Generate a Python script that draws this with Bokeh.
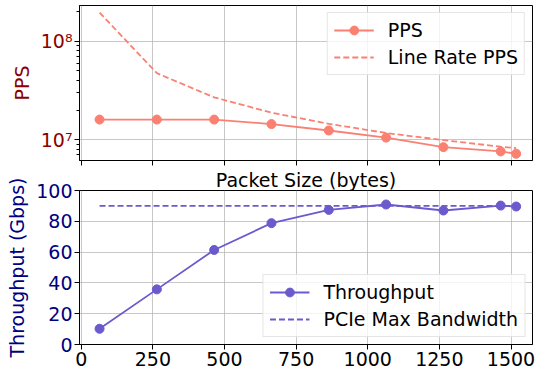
from bokeh.plotting import figure
from bokeh.layouts import column
from bokeh.models import (Range1d, SingleIntervalTicker, FixedTicker, CustomJSTickFormatter,
                          Legend, LegendItem)
from bokeh.embed import file_html
from bokeh.resources import INLINE

packet_sizes = [64, 264, 464, 664, 864, 1064, 1264, 1464, 1518]
pps = [1.60e7, 1.60e7, 1.60e7, 1.44e7, 1.24e7, 1.05e7, 8.4e6, 7.6e6, 7.2e6]
line_rate_pps = [1.95e8, 4.73e7, 2.69e7, 1.88e7, 1.45e7, 1.17e7, 9.9e6, 8.5e6, 8.2e6]
throughput = [10.2, 35.8, 61.4, 78.8, 87.4, 90.9, 87.0, 90.2, 89.6]
pcie_max = [90, 90, 90, 90, 90, 90, 90, 90, 90]
pps_major_ticks = [1e7, 1e8]

FONT = "DejaVu Sans"
FS = "19px"
PPS_COLOR = "#FA8072"
PPS_LABEL = "#8B0000"
TP_COLOR = "#6A5ACD"
TP_LABEL = "#000080"

x_range = Range1d(-6, 1575)


def style(p):
    p.outline_line_color = "black"
    p.outline_line_width = 1
    p.background_fill_color = "white"
    p.border_fill_color = "white"
    for ax in (p.xaxis[0], p.yaxis[0]):
        ax.major_tick_out = 5
        ax.major_tick_in = 0
        ax.minor_tick_out = 3
        ax.minor_tick_in = 0
        ax.major_tick_line_color = "black"
        ax.minor_tick_line_color = "black"
        ax.major_label_text_font = FONT
        ax.major_label_text_font_size = FS
        ax.major_label_text_color = "black"
        ax.axis_label_text_font = FONT
        ax.axis_label_text_font_size = FS
        ax.axis_label_text_font_style = "normal"
        ax.axis_label_text_color = "black"
        ax.axis_line_color = "black"
        ax.major_label_standoff = 2
    p.xaxis.ticker = SingleIntervalTicker(interval=250)
    p.xgrid.ticker = SingleIntervalTicker(interval=250)
    p.xaxis.minor_tick_line_color = None
    for g in (p.xgrid[0], p.ygrid[0]):
        g.grid_line_color = "#b0b0b0"
        g.grid_line_alpha = 0.7
        g.grid_line_width = 1


def make_legend(items):
    lg = Legend(items=items)
    lg.label_text_font = FONT
    lg.label_text_font_size = FS
    lg.label_text_color = "black"
    lg.glyph_width = 40
    lg.glyph_height = 22
    lg.label_height = 22
    lg.label_standoff = 14
    lg.spacing = 5
    lg.padding = 6
    lg.margin = 7
    lg.border_line_color = "#cccccc"
    lg.border_line_width = 1
    lg.background_fill_alpha = 0.8
    return lg


# Top plot (log PPS)
p1 = figure(frame_width=453, frame_height=155, x_range=x_range, y_range=Range1d(6.15e6, 2.3e8),
            y_axis_type="log", output_backend="svg", toolbar_location=None,
            min_border_left=79, min_border_right=3, min_border_top=5, min_border_bottom=6)
style(p1)
minor = [m * 10 ** e for e in (6, 7, 8) for m in range(2, 10)]
p1.yaxis.ticker = FixedTicker(ticks=pps_major_ticks, minor_ticks=minor)
p1.ygrid.ticker = FixedTicker(ticks=pps_major_ticks)
p1.yaxis.formatter = CustomJSTickFormatter(code="""
const sup = {'0':'\u2070','1':'\u00b9','2':'\u00b2','3':'\u00b3','4':'\u2074','5':'\u2075','6':'\u2076','7':'\u2077','8':'\u2078','9':'\u2079'};
const e = Math.round(Math.log10(tick));
return '10' + String(e).split('').map(c => sup[c]).join('');
""")
p1.yaxis.axis_label = "PPS"
p1.yaxis.axis_label_text_color = PPS_LABEL
p1.yaxis.major_label_text_color = PPS_LABEL
p1.xaxis.formatter = CustomJSTickFormatter(code="return '';")
p1.xaxis.major_label_standoff = -25

r_line = p1.line(packet_sizes, pps, line_color=PPS_COLOR, line_width=1.8)
r_pts = p1.scatter(packet_sizes, pps, size=9, fill_color=PPS_COLOR, line_color=PPS_COLOR)
r_lr = p1.line(packet_sizes, line_rate_pps, line_color=PPS_COLOR, line_width=1.8, line_dash="6 3")
lg1 = make_legend([LegendItem(label="PPS", renderers=[r_line, r_pts]),
                   LegendItem(label="Line Rate PPS", renderers=[r_lr])])
lg1.location = "top_right"
p1.add_layout(lg1)

# Bottom plot (throughput)
p2 = figure(frame_width=453, frame_height=154, x_range=x_range, y_range=Range1d(0, 100),
            output_backend="svg", toolbar_location=None, title="Packet Size (bytes)",
            min_border_left=79, min_border_right=3, min_border_top=0, min_border_bottom=30)
style(p2)
p2.title.align = "center"
p2.title.text_font = FONT
p2.title.text_font_size = FS
p2.title.text_font_style = "normal"
p2.title.text_color = "black"
p2.title.standoff = 0
p2.yaxis.ticker = SingleIntervalTicker(interval=20)
p2.ygrid.ticker = SingleIntervalTicker(interval=20)
p2.yaxis.minor_tick_line_color = None
p2.yaxis.axis_label = "Throughput (Gbps)"
p2.yaxis.axis_label_text_color = TP_LABEL
p2.yaxis.major_label_text_color = TP_LABEL

t_line = p2.line(packet_sizes, throughput, line_color=TP_COLOR, line_width=1.8)
t_pts = p2.scatter(packet_sizes, throughput, size=9, fill_color=TP_COLOR, line_color=TP_COLOR)
t_pc = p2.line(packet_sizes, pcie_max, line_color=TP_COLOR, line_width=1.8, line_dash="6 3")
lg2 = make_legend([LegendItem(label="Throughput", renderers=[t_line, t_pts]),
                   LegendItem(label="PCIe Max Bandwidth", renderers=[t_pc])])
lg2.location = "bottom_right"
p2.add_layout(lg2)

layout = column(p1, p2)
open("out.html", "w").write(file_html(layout, INLINE))
